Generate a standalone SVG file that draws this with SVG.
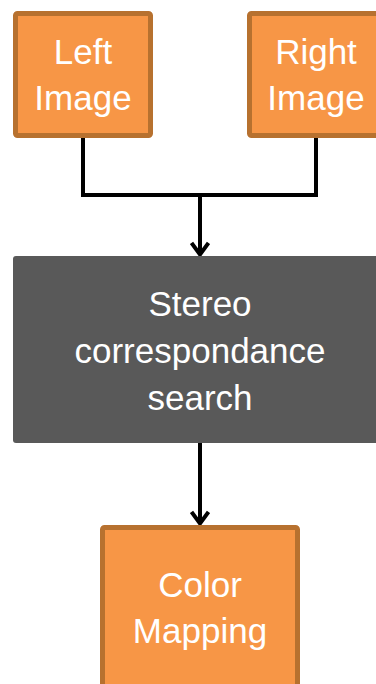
<svg xmlns="http://www.w3.org/2000/svg" width="376" height="684" viewBox="0 0 376 684">
<style>
.orange{fill:#F79646;stroke:#B7712F;stroke-width:5}
.dark{fill:#595959}
.t{font-family:"Liberation Sans",Arial,sans-serif;font-size:35px;fill:#FFFFFF;text-anchor:middle}
.c{fill:none;stroke:#000;stroke-width:4}
</style>
<defs>
<marker id="ah" viewBox="0 0 16 20" refX="14" refY="10" markerWidth="16" markerHeight="20" markerUnits="userSpaceOnUse" orient="auto">
<path d="M2 1.5 L13.5 10 L2 18.5" fill="none" stroke="#000" stroke-width="4"/>
</marker>
</defs>
<g id="connectors">
<path class="c" d="M83 136 V195 H316 V136"/>
<path class="c" d="M200 195 V255" marker-end="url(#ah)"/>
<path class="c" d="M200 443 V524" marker-end="url(#ah)"/>
</g>
<g id="left">
<rect class="orange" x="15.5" y="13.5" width="135" height="122" rx="2"/>
<text class="t" x="83" y="64">Left</text>
<text class="t" x="83" y="110">Image</text>
</g>
<g id="right">
<rect class="orange" x="249.5" y="13.5" width="135" height="122" rx="2"/>
<text class="t" x="316" y="64">Right</text>
<text class="t" x="316" y="110">Image</text>
</g>
<g id="stereo">
<rect class="dark" x="13" y="256" width="375" height="187" rx="3"/>
<text class="t" x="200" y="316">Stereo</text>
<text class="t" x="200" y="363">correspondance</text>
<text class="t" x="200" y="410">search</text>
</g>
<g id="color">
<rect class="orange" x="102.5" y="527.5" width="195" height="170" rx="2"/>
<text class="t" x="200" y="597">Color</text>
<text class="t" x="200" y="643">Mapping</text>
</g>
</svg>
